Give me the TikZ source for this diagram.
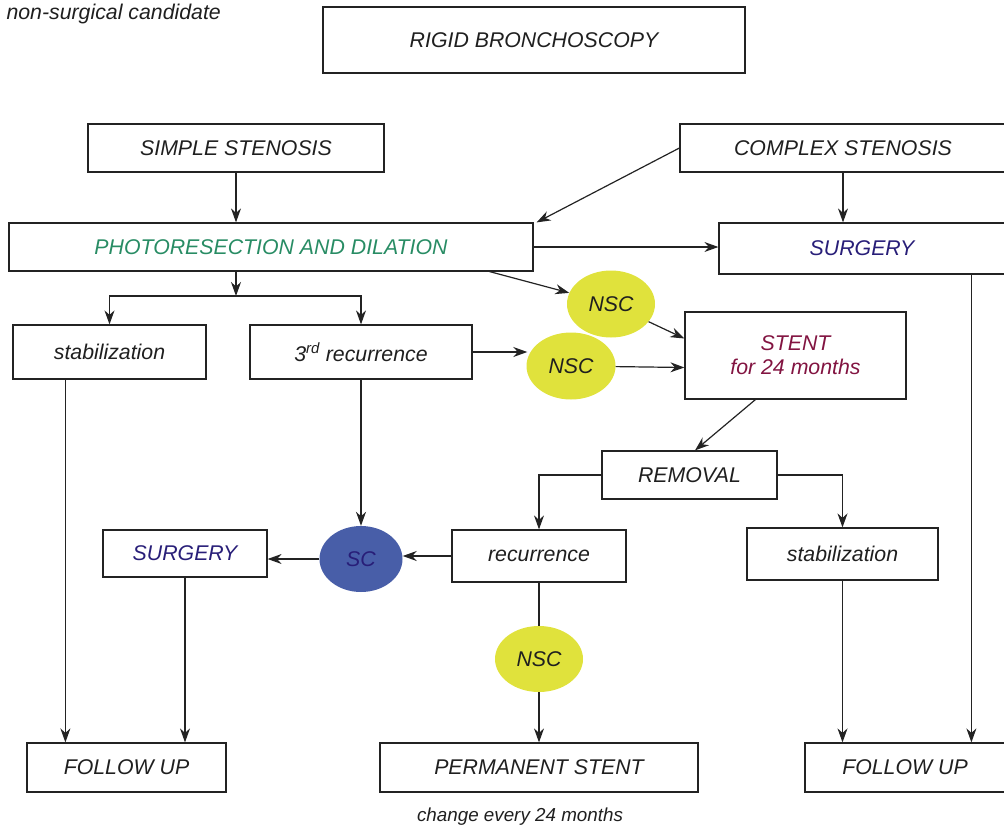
\documentclass[tikz,border=0pt]{standalone}
\usepackage{fontspec}
\setmainfont{Liberation Sans}
\usetikzlibrary{arrows.meta,shapes.geometric,calc}
\definecolor{cgreen}{RGB}{40,140,100}
\definecolor{cnavy}{RGB}{40,30,120}
\definecolor{cmaroon}{RGB}{130,20,65}
\definecolor{cyellow}{RGB}{224,226,60}
\definecolor{cblue}{RGB}{72,94,168}
\definecolor{cline}{RGB}{35,35,35}
\begin{document}
\begin{tikzpicture}[x=1pt,y=-1pt,
  every node/.style={font=\fontsize{21.3}{25}\selectfont\itshape, text=black!88},
  box/.style={draw=cline, line width=1.2pt, inner sep=0pt, rectangle},
  oval/.style={ellipse, inner sep=0pt, draw=none},
  tip/.tip={Stealth[length=14pt,width=10pt,inset=4.5pt]},
  arr/.style={draw=cline, line width=1.2pt, -tip},
  ln/.style={draw=cline, line width=1.2pt}]
\useasboundingbox (0,0) rectangle (1004,830);
\clip (0,0) rectangle (1004,830);
% texts
\node[anchor=west] (nsc0) at (3,14) {non-surgical candidate};
\node[font=\fontsize{18.8}{22}\selectfont\itshape] (chg) at (520,817) {change every 24 months};
% boxes
\node[box, minimum width=422, minimum height=66] (rigid) at (534,40) {RIGID BRONCHOSCOPY};
\node[box, minimum width=296, minimum height=48] (simple) at (236,148) {SIMPLE STENOSIS};
\node[box, minimum width=326, minimum height=48] (complex) at (843,148) {COMPLEX STENOSIS};
\node[box, minimum width=524, minimum height=48, text=cgreen] (photo) at (271,247) {PHOTORESECTION AND DILATION};
\node[box, minimum width=286, minimum height=51, text=cnavy] (surgR) at (862,248.5) {SURGERY};
\node[box, minimum width=193, minimum height=54] (stabL) at (109.5,352) {stabilization};
\node[box, minimum width=222, minimum height=54] (rec3) at (361,352) {3\textsuperscript{rd} recurrence};
\node[box, minimum width=221, minimum height=87, text=cmaroon, align=center] (stent) at (795.5,355.5) {STENT\\[-1pt]for 24 months};
\node[box, minimum width=175, minimum height=48] (removal) at (689.5,475) {REMOVAL};
\node[box, minimum width=174, minimum height=52] (recur) at (539,556) {recurrence};
\node[box, minimum width=191, minimum height=52] (stabR) at (842.5,554) {stabilization};
\node[box, minimum width=164, minimum height=47, text=cnavy] (surgL) at (185,553.5) {SURGERY};
\node[box, minimum width=199, minimum height=49] (fuL) at (126.5,767.5) {FOLLOW UP};
\node[box, minimum width=318, minimum height=49] (perm) at (539,767.5) {PERMANENT STENT};
\node[box, minimum width=200, minimum height=49] (fuR) at (905,767.5) {FOLLOW UP};
% ellipses
\node[oval, fill=cyellow, minimum width=88, minimum height=67] (nsc1) at (611,304) {NSC};
\node[oval, fill=cyellow, minimum width=89, minimum height=67] (nsc2) at (571,366) {NSC};
\node[oval, fill=cblue, minimum width=83, minimum height=66, text=cnavy] (sc) at (361,559) {SC};
\node[oval, fill=cyellow, minimum width=88, minimum height=66] (nsc3) at (539,659) {NSC};
% connectors
\coordinate (br) at (236,296);
\draw[arr] (simple.south) -- (simple.south |- photo.north);
\draw[arr] (complex.west) -- ($(photo.north east)+(3,0)$);
\draw[arr] (complex.south) -- (complex.south |- surgR.north);
\draw[arr] (photo.east) -- (photo.east -| surgR.west);
\draw[arr] ($(photo.south east)+(-44,0)$) -- (nsc1);
\draw[arr] (photo.south -| br) -- (br);
\draw[ln, tip-tip] (stabL.north) |- (br) -| (rec3.north);
\draw[arr] (rec3.east) -- ($(nsc2.west |- rec3.east)+(1,0)$);
\draw[arr] (nsc1) -- ($(stent.west)+(0,-17)$);
\draw[arr] (nsc2) -- ($(stent.west)+(0,12)$);
\draw[arr] ($(stent.south west)+(71,0)$) -- ($(removal.north)+(5.5,0)$);
\draw[arr] (removal.west) -| (recur.north);
\draw[arr] (removal.east) -| (stabR.north);
\draw[arr] (recur.west) -- (recur.west -| sc.east);
\draw[arr] (sc.west) -- (sc.west -| surgL.east);
\draw[arr] (rec3.south) -- (sc.north);
\draw[arr] ($(stabL.south west)+(53,0)$) coordinate (sl) -- (sl |- fuL.north);
\draw[arr] (surgL.south) -- (surgL.south |- fuL.north);
\draw[ln] (recur.south) -- (nsc3.north);
\draw[arr] (nsc3.south) -- (perm.north);
\draw[arr] (stabR.south) -- (stabR.south |- fuR.north);
\draw[arr] ($(surgR.south west)+(253,0)$) coordinate (sr) -- (sr |- fuR.north);
\end{tikzpicture}
\end{document}
